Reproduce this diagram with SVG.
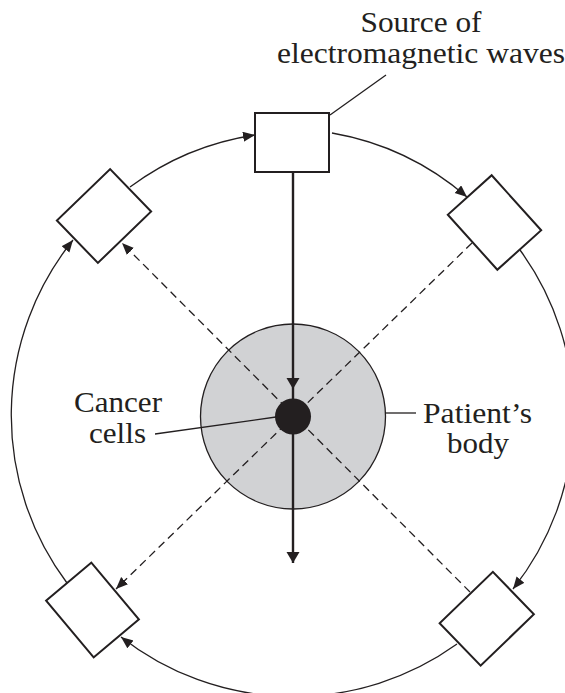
<svg xmlns="http://www.w3.org/2000/svg" width="565" height="693" viewBox="0 0 565 693">
<style>
.lbl{font-family:'Liberation Serif','Times New Roman',Times,serif;font-size:30px;fill:#231f20;text-anchor:middle}
.box{fill:#fff;stroke:#231f20;stroke-width:2}
.arc{fill:none;stroke:#231f20;stroke-width:1.3}
.dash{fill:none;stroke:#231f20;stroke-width:1.3;stroke-dasharray:8 5}
.beam{fill:none;stroke:#231f20;stroke-width:2.4}
.lead{fill:none;stroke:#231f20;stroke-width:1.3}
</style>
<defs>
<marker id="ah" markerUnits="userSpaceOnUse" markerWidth="14" markerHeight="12" refX="12" refY="5" orient="auto"><path d="M0,0 L12,5 L0,10 Z" fill="#231f20"/></marker>
<marker id="bh" markerUnits="userSpaceOnUse" markerWidth="13" markerHeight="14" refX="11" refY="6.5" orient="auto"><path d="M0,0 L11,6.5 L0,13 Z" fill="#231f20"/></marker>
</defs>
<g id="connectors">
<path class="arc" d="M130,187 A280,280 0 0 1 255,135" marker-end="url(#ah)"/>
<path class="arc" d="M332,133 A280,280 0 0 1 467,197" marker-end="url(#ah)"/>
<path class="arc" d="M520,250 A280,280 0 0 1 513,589" marker-end="url(#ah)"/>
<path class="arc" d="M457,644 A280,280 0 0 1 121,637" marker-end="url(#ah)"/>
<path class="arc" d="M67,583 A280,280 0 0 1 73,240" marker-end="url(#ah)"/>
</g>
<g id="body">
<circle cx="293" cy="416.5" r="92.5" fill="#d1d2d4" stroke="#231f20" stroke-width="1.3"/>
</g>
<g id="rays">
<line class="dash" x1="470" y1="592" x2="122" y2="243" marker-end="url(#ah)"/>
<line class="dash" x1="472" y1="243" x2="116" y2="589" marker-end="url(#ah)"/>
<line class="beam" x1="293" y1="172" x2="293" y2="389" marker-end="url(#bh)"/>
<line class="beam" x1="293" y1="389" x2="293" y2="563" marker-end="url(#bh)"/>
</g>
<g id="cancer">
<circle cx="293" cy="416.5" r="18" fill="#231f20"/>
</g>
<g id="source">
<rect class="box" x="255" y="113" width="74" height="59"/>
</g>
<g id="box-tl"><rect class="box" x="-37" y="-29.5" width="74" height="59" transform="translate(104,216) rotate(-44)"/></g>
<g id="box-tr"><rect class="box" x="-37" y="-29.5" width="74" height="59" transform="translate(494.5,222.5) rotate(48)"/></g>
<g id="box-bl"><rect class="box" x="-37" y="-29.5" width="74" height="59" transform="translate(92.5,610) rotate(50)"/></g>
<g id="box-br"><rect class="box" x="-37" y="-29.5" width="74" height="59" transform="translate(486.75,618.75) rotate(-44)"/></g>
<g id="labels">
<line class="lead" x1="386" y1="75" x2="330" y2="115"/>
<text class="lbl" x="421" y="32" textLength="121" lengthAdjust="spacingAndGlyphs">Source of</text>
<text class="lbl" x="421" y="63" textLength="288" lengthAdjust="spacingAndGlyphs">electromagnetic waves</text>
<line class="lead" x1="155" y1="434" x2="276" y2="417"/>
<text class="lbl" x="118" y="412" textLength="88" lengthAdjust="spacingAndGlyphs">Cancer</text>
<text class="lbl" x="117.5" y="443" textLength="57" lengthAdjust="spacingAndGlyphs">cells</text>
<line class="lead" x1="385" y1="413" x2="416" y2="413"/>
<text class="lbl" x="477.5" y="423" textLength="109" lengthAdjust="spacingAndGlyphs">Patient’s</text>
<text class="lbl" x="478" y="453" textLength="62" lengthAdjust="spacingAndGlyphs">body</text>
</g>
</svg>
